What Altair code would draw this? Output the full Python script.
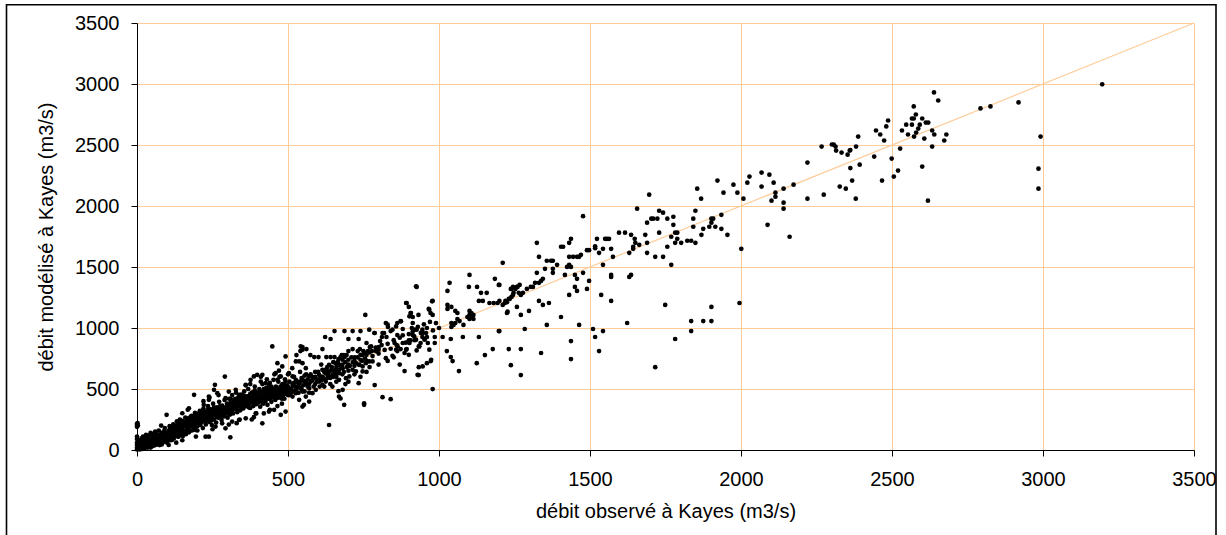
import altair as alt
import pandas as pd

pts_origin = [(0,5),(0,20),(0,40),(0,60),(0,90),(0,110),(0,190),(0,205),(0,215),(3,200),(2,220),(5,10),(5,30),(8,15),
              (10,50),(10,5),(12,25),(15,40),(15,70),(18,10),(20,30),(20,55),(22,85),(25,15),(25,45),(28,65),(30,25),
              (30,100),(32,50),(35,75),(35,35),(45,45),(55,60),(65,75),(75,85),(85,90),(95,105),(35,55),(25,35),(15,20),
              (50,80),(70,95),(90,120),(5,50),(10,80),(15,95),(20,15),(30,60),(40,75),(45,110),(55,95),(60,85),
              (65,120),(75,110),(85,130),(95,140),(100,85),(20,110),(30,125),(45,140),(50,30),(35,20),(75,40)]
pts_band_0_100 = [(40,40),(40,60),(40,90),(42,120),(45,20),(48,70),(50,50),(50,100),(52,130),(55,35),(58,80),(60,60),
                  (60,110),(62,140),(65,45),(68,90),(70,70),(70,125),(72,160),(75,55),(78,100),(80,80),(80,140),(82,45),
                  (85,115),(88,65),(90,95),(90,155),(92,180),(95,75),(98,130),(100,110),(100,60),(105,41),(98,288),
                  (60,150),(80,200),(61,41),(83,55)]
pts_band_100_200 = [(105,100),(105,160),(108,195),(110,135),(112,80),(115,175),(118,115),(120,150),(120,210),(122,95),
                    (125,170),(128,130),(130,200),(132,235),(135,110),(138,160),(140,185),(140,130),(142,250),(145,210),
                    (148,145),(150,175),(150,240),(152,115),(155,195),(158,225),(160,155),(160,265),(162,130),(165,210),
                    (168,250),(170,180),(172,145),(175,230),(178,200),(180,280),(182,160),(185,245),(188,215),(190,180),
                    (192,305),(195,265),(198,230),(200,195),(200,160),(110,110),(125,140),(135,185),(145,170),(155,150),
                    (165,180),(175,200),(185,190),(195,220),(165,230),(185,270),(200,250),(189,452),(168,330),(195,110),
                    (150,80),(130,60),(116,82),(138,110),(172,151),(194,164),(150,301),(172,342),
                    (105,130),(115,145),(125,190),(130,160),(140,155),(145,230),(155,215),(160,200),(170,215),(175,160),
                    (180,240),(190,250),(195,195),(110,180),(120,180),(135,215),(150,200),(160,230),(170,260),(185,220),
                    (190,285),(200,280),(200,215),(130,120),(145,125),(175,265)]
pts_band_200_300 = [(205,280),(205,235),(208,320),(210,205),(212,255),(215,295),(218,180),(220,340),(222,240),(225,275),
                    (228,210),(230,315),(232,255),(235,360),(238,290),(240,230),(242,335),(245,270),(248,205),(250,305),
                    (252,380),(255,250),(258,325),(260,285),(262,225),(265,350),(268,305),(270,265),(272,395),(275,335),
                    (278,290),(280,245),(282,365),(285,315),(288,275),(290,410),(292,345),(295,300),(298,380),(300,330),
                    (300,265),(210,260),(220,290),(230,280),(240,310),(250,280),(260,320),(270,330),(280,300),(290,330),
                    (215,230),(245,240),(275,270),(258,534),(291,602),(227,109),(238,109),(293,178),(240,430),
                    (220,400),(270,450),(250,170),(260,192),(282,219),(221,370),(238,411),(238,438),(255,493),(266,466),
                    (293,425),(205,300),(210,240),(215,270),(220,250),(225,310),(230,240),(235,300),(240,270),(245,330),
                    (250,250),(255,290),(260,300),(265,270),(270,300),(275,360),(280,330),(285,290),(290,300),(295,350),
                    (300,300),(215,320),(235,330),(255,350),(275,300),(295,320),(225,250),(265,330),(285,340)]
pts_band_300_400 = [(305,355),(305,420),(308,290),(310,390),(312,330),(315,450),(318,300),(320,365),(322,410),(325,340),
                    (328,470),(330,385),(332,310),(335,430),(338,360),(340,400),(342,325),(345,455),(348,380),(350,420),
                    (352,340),(355,480),(358,395),(360,260),(360,440),(362,360),(365,410),(368,500),(370,375),(372,440),
                    (375,345),(378,420),(380,470),(382,390),(385,360),(387,269),(388,450),(390,520),(392,405),(395,375),
                    (398,470),(400,430),(310,360),(320,390),(330,350),(340,370),(350,390),(360,410),(370,400),(380,430),
                    (390,440),(315,320),(335,400),(355,360),(375,390),(395,410),(309,104),(304,208),(360,530),(340,250),
                    (330,220),(375,540),(395,300),(380,250),(315,233),(338,246),(304,479),(327,493),(338,452),(360,534),
                    (376,575),(387,603),(398,616),(393,301),(305,330),(310,300),(315,380),(320,340),(325,420),(330,330),
                    (335,370),(340,430),(345,350),(350,450),(355,410),(360,380),(365,440),(370,350),(375,460),(380,400),
                    (385,420),(390,380),(395,450),(400,400),(345,400),(365,380),(385,470),(330,410),(310,420),(390,490)]
pts_band_400_500 = [(402,390),(405,500),(408,355),(410,450),(412,415),(415,219),(415,540),(418,380),(420,470),(422,430),
                    (425,400),(428,510),(430,450),(432,370),(435,490),(438,420),(440,550),(442,460),(445,395),(448,849),
                    (448,500),(450,430),(452,575),(455,470),(458,410),(460,520),(462,445),(465,490),(468,560),(470,430),
                    (472,600),(475,470),(476,288),(478,510),(480,450),(482,540),(485,480),(488,420),(490,580),(492,315),
                    (492,500),(495,460),(498,530),(500,480),(500,620),(405,440),(415,470),(425,460),(435,450),(445,480),
                    (455,500),(465,470),(475,520),(485,500),(495,510),(410,420),(430,480),(450,460),(470,500),(490,470),
                    (420,300),(440,330),(465,360),(480,380),(455,620),(430,580),(470,650),(410,600),(415,616),(410,561),
                    (426,548),(437,534),(459,630),(465,575),(476,603),(481,534),(492,561),(437,315),(454,329),(465,712),
                    (481,685),(492,767),(405,410),(410,480),(415,390),(420,430),(425,500),(430,420),(435,470),(440,420),
                    (445,440),(450,500),(455,440),(460,480),(465,430),(470,460),(475,490),(480,480),(485,450),(490,520),
                    (495,480),(500,450),(420,500),(440,500),(460,450),(480,420),(500,510),(445,520),(425,440),(485,540)]
pts_500_760 = [(505,450),(510,500),(515,540),(520,480),(525,520),(530,560),(535,470),(540,510),(545,590),(550,530),
               (555,480),(560,620),(505,560),(520,600),(540,640),(555,560),(565,520),(575,560),(580,600),(590,540),
               (600,580),(610,600),(620,640),(630,590),(640,650),(650,600),(660,680),(570,470),(590,640),(610,700),
               (630,680),(650,720),(680,740),(700,700),(720,760),(740,740),(760,780),(700,650),(720,690),(680,620),
               (660,560),(503,630),(515,603),(526,575),(537,548),(559,561),(570,603),(586,589),(603,616),(614,657),
               (625,630),(636,603),(647,616),(658,657),(669,630),(681,671),(692,589),(703,603),(669,575),(647,520),
               (614,534),(592,493),(570,507),(548,479),(526,466),(515,438),(559,438),(581,466),(603,561),(625,561),
               (636,698),(658,712),(669,698),(714,657),(725,712),(736,698),(747,685),(758,712),(769,726),(780,726),
               (725,644),(747,644),(681,493),(548,356),(553,370),(537,411),(570,397),(514,671),(526,726),(537,726),
               (548,712),(542,849),(548,822),(559,671),(636,205),(752,383),(752,370),(686,370),(669,438),(667,482),
               (674,422),(734,548),(787,532),(505,500),(510,470),(515,520),(520,550),(525,490),(530,510),(535,540),
               (540,560),(545,500),(550,570),(555,610),(560,540),(565,580),(570,540),(575,620),(580,570),(585,520),
               (590,600),(595,560),(600,640),(605,520),(610,570),(615,600),(620,580),(625,660),(630,620),(635,640),
               (640,590),(645,680),(650,650),(655,620),(660,640),(665,720),(670,660),(675,690),(680,700),(685,640),
               (690,720),(695,680),(700,740),(705,690),(710,760),(715,720),(720,730),(730,760),(735,700),(740,780),
               (745,730),(750,810),(755,750),(760,730),(620,520),(640,540),(660,600),(700,560),(720,620),(740,600),
               (760,640),(690,540)]
pts_500_1000_upper = [(528,778),(541,811),(548,844),(561,827),(574,778),(587,762),(601,762),(614,827),(627,762),(641,762),
                      (654,762),(667,745),(678,778),(694,778),(687,762),(674,762),(685,778),(700,811),(714,827),(731,811),
                      (738,827),(747,778),(758,795),(765,811),(778,811),(771,844),(791,811),(800,844),(787,959),(805,893),
                      (811,926),(826,926),(840,975),(818,959),(831,1008),(824,1041),(623,926),(641,910),(654,975),
                      (687,975),(700,910),(714,975),(740,975),(734,910),(756,1107),(760,877),(775,849),(800,822),(769,986),
                      (786,959),(813,959),(830,1027),(846,986),(858,1013),(874,1055),(862,1041),(873,1057),(862,942),
                      (853,877),(880,992),(886,795),(880,877),(873,827),(862,811),(893,827),(886,647),(824,753),(846,772),
                      (858,822),(863,849),(891,822),(902,877),(913,972),(918,931),(924,904),(935,849),(946,959),(952,904),
                      (963,877),(968,822),(974,740),(946,685),(929,616),(926,816),(933,679),(933,614),(960,712),(973,729),
                      (986,926),(986,877),(979,499),(945,926),(953,910),(960,926),(957,959),(939,877),(933,849),(926,986),
                      (919,986),(945,986),(913,942),(906,898),(900,898),(813,433),(840,417),(891,1205),(924,1342),
                      (977,1219),(968,1150),(907,1123),(902,1096),(979,1222),(966,1156),(972,1123),(979,1107),(932,1107),
                      (893,1205),(900,1173),(906,1123),(913,1090),(913,1041),(926,1337),(770,800),(780,770),(790,840),
                      (800,790),(810,860),(820,820),(830,870),(840,830),(850,900),(860,860),(870,920),(880,940),(890,880),
                      (900,950),(910,1000),(920,900),(930,1010),(940,960),(950,1030),(960,1000),(970,1050),(980,980),
                      (990,1040),(1000,1000),(770,680),(800,700),(830,730),(850,760),(870,700),(900,780)]
pts_1000_1300 = [(1185,1403),(1198,1353),(1101,1435),(1035,1370),(1028,1304),(1126,1337),(1139,1288),(1158,1288),
                 (1099,1337),(1132,1222),(1145,1222),(1028,1189),(1028,1156),(1041,1173),(1054,1140),(1061,1123),
                 (1101,1140),(1107,1123),(1101,1107),(1114,1107),(1094,1090),(1107,1090),(1101,1074),(1114,1074),
                 (1061,1074),(1068,1057),(1054,1041),(1041,1041),(1048,1025),(1041,1008),(1081,1025),(1167,1205),
                 (1181,1205),(1194,1205),(1200,1222),(1220,1222),(1234,1238),(1240,1255),(1247,1288),(1260,1337),
                 (1240,1320),(1253,1320),(1267,1353),(1227,1134),(1198,975),(1178,827),(1152,778),(1125,712),
                 (1132,926),(1079,926),(1039,910),(1026,811),(1039,762),(1045,729),(1066,647),(1012,926),(1211,1534),
                 (1200,1353),(1200,975),(1231,827),(1238,695),(1271,827),(1271,614),(1284,992),(1271,1107),(1258,1173),
                 (1225,1123),(1298,1140),(1211,1189),(1218,1205),(1225,1211),(1231,1238),(1245,1271),(1238,1320),
                 (1245,1337),(1258,1337),(1264,1288),(1271,1271),(1278,1288),(1291,1320)]
pts_1300_1700 = [(1304,1337),(1311,1337),(1318,1370),(1331,1370),(1324,1452),(1338,1386),(1344,1403),(1351,1485),
                 (1357,1551),(1371,1551),(1377,1551),(1377,1452),(1377,1485),(1391,1518),(1404,1090),(1437,745),
                 (1437,893),(1464,1025),(1431,1271),(1457,1304),(1450,1337),(1424,1501),(1437,1501),(1431,1518),
                 (1411,1666),(1431,1698),(1437,1731),(1477,1917),(1431,1583),(1444,1583),(1457,1583),(1464,1583),
                 (1470,1600),(1457,1403),(1450,1435),(1477,1452),(1490,1320),(1497,1386),(1490,1638),(1497,1638),
                 (1530,1616),(1543,1518),(1517,1654),(1517,1670),(1563,1731),(1523,1731),(1550,1731),(1556,1731),
                 (1543,1649),(1570,1649),(1576,1583),(1596,1781),(1616,1781),(1630,1616),(1636,1764),(1648,1731),
                 (1643,1649),(1643,1666),(1650,1698),(1663,1682),(1689,1616),(1689,1698),(1683,1764),(1656,1978),
                 (1689,1863),(1709,1896),(1324,1698),(1331,1583),(1331,1222),(1344,1189),(1364,1205),(1357,1025),
                 (1338,795),(1404,1666),(1417,1435),(1510,992),(1517,926),(1530,811),(1543,975),(1537,1271),
                 (1570,1435),(1570,1419),(1570,1222),(1623,1041),(1630,1419),(1636,1435),(1696,2093)]
pts_1700_2200 = [(1716,1583),(1742,1583),(1729,1781),(1769,1518),(1756,1666),(1776,1846),(1769,1748),(1789,1731),
                 (1789,1781),(1782,1781),(1782,1698),(1802,1698),(1849,1698),(1822,1715),(1835,1715),(1842,1830),
                 (1869,1764),(1875,1813),(1902,1863),(1895,1830),(1915,1830),(1935,1813),(1955,1764),(1995,1205),
                 (2001,1649),(2161,1748),(2088,1846),(1716,679),(1749,1189),(1782,910),(1835,1057),(1835,975),
                 (1875,1057),(1902,1057),(1902,1173),(1703,1896),(1723,1896),(1756,1896),(1776,1912),(1742,1945),
                 (1729,1961),(1908,1896),(1902,1896),(1842,1896),(1849,1961),(1855,2142),(1868,2060),(1935,1928),
                 (1922,2208),(1942,2109),(1975,2175),(1988,2109),(2008,2060),(2021,2191),(2028,2241),(2068,2159),
                 (2068,2274),(2094,2257),(2108,2191),(2141,1978),(2141,2027),(2101,2044),(2114,2076),(2114,2109),
                 (2141,2142),(2174,2175)]
pts_2200_3200 = [(2220,2060),(2274,2093),(2347,2142),(2327,2159),(2220,2356),(2360,2454),(2353,2421),(2333,2438),
                 (2315,2454),(2313,2487),(2307,2504),(2301,2504),(2267,2487),(3196,2997),(2919,2849),(2826,2816),
                 (2793,2800),(2639,2931),(2653,2865),(2572,2816),(2579,2750),(2566,2717),(2572,2717),(2600,2717),
                 (2612,2684),(2620,2684),(2547,2667),(2566,2667),(2592,2667),(2587,2635),(2533,2619),(2633,2619),
                 (2553,2586),(2580,2602),(2573,2569),(2640,2586),(2680,2586),(2607,2553),(2673,2537),(2633,2487),
                 (2527,2471),(2487,2701),(2481,2652),(2447,2619),(2461,2586),(2474,2537),(2388,2569),(2381,2487),
                 (2362,2459),(2441,2405),(2499,2389),(2393,2339),(2362,2311),(2520,2290),(2506,2241),(2600,2323),
                 (2467,2208),(2368,2208),(2380,2060),(2619,2044),(2992,2569),(2985,2306),(2985,2142)]

diag_x = [0, 3500]
diag_y = [0, 3500]
ticks = [0, 500, 1000, 1500, 2000, 2500, 3000, 3500]

all_pts = (pts_origin + pts_band_0_100 + pts_band_100_200 + pts_band_200_300 + pts_band_300_400 +
           pts_band_400_500 + pts_500_760 + pts_500_1000_upper + pts_1000_1300 + pts_1300_1700 +
           pts_1700_2200 + pts_2200_3200)
df = pd.DataFrame(all_pts, columns=["obs", "mod"])
diag = pd.DataFrame({"obs": diag_x, "mod": diag_y})

FONT = "Liberation Sans"
GRID = "#FFCC99"

xscale = alt.Scale(domain=[0, 3500], nice=False, zero=False)
yscale = alt.Scale(domain=[0, 3500], nice=False, zero=False)

xaxis = alt.Axis(values=ticks, labelPadding=13, format="d",
                 title="débit observé à Kayes (m3/s)", titlePadding=12)
yaxis = alt.Axis(values=ticks, labelPadding=12, format="d",
                 title="débit modélisé à Kayes (m3/s)", titlePadding=18)

line = alt.Chart(diag).mark_line(color=GRID, strokeWidth=1.2).encode(
    x=alt.X("obs:Q", scale=xscale, axis=xaxis),
    y=alt.Y("mod:Q", scale=yscale, axis=yaxis),
)
points = alt.Chart(df).mark_circle(color="black", size=22, opacity=1).encode(
    x=alt.X("obs:Q", scale=xscale, axis=xaxis),
    y=alt.Y("mod:Q", scale=yscale, axis=yaxis),
)
frame = alt.Chart(alt.Data(values=[{"a": 1}])).mark_rect(
    fillOpacity=0, stroke="black", strokeWidth=1.6).encode(
    x=alt.value(-130.5), x2=alt.value(1079), y=alt.value(-18.3), y2=alt.value(530)
)

chart = alt.layer(line, points, frame).properties(
    width=1057, height=427,
    autosize=alt.AutoSizeParams(type="none"),
    padding={"left": 137, "top": 23, "right": 32, "bottom": 85},
    background="white",
).configure_view(
    stroke="transparent"
).configure_axis(
    grid=True, gridColor=GRID, gridWidth=1, gridOpacity=1,
    domainColor="black", domainWidth=1, tickColor="black", tickSize=6,
    labelFontSize=20, labelColor="black", labelFont=FONT, labelFlush=False, labelOverlap=False,
    titleFont=FONT, titleFontSize=20, titleFontWeight="normal", titleColor="black",
)

chart.save("out.html", embed_options={"renderer": "svg", "actions": False})
